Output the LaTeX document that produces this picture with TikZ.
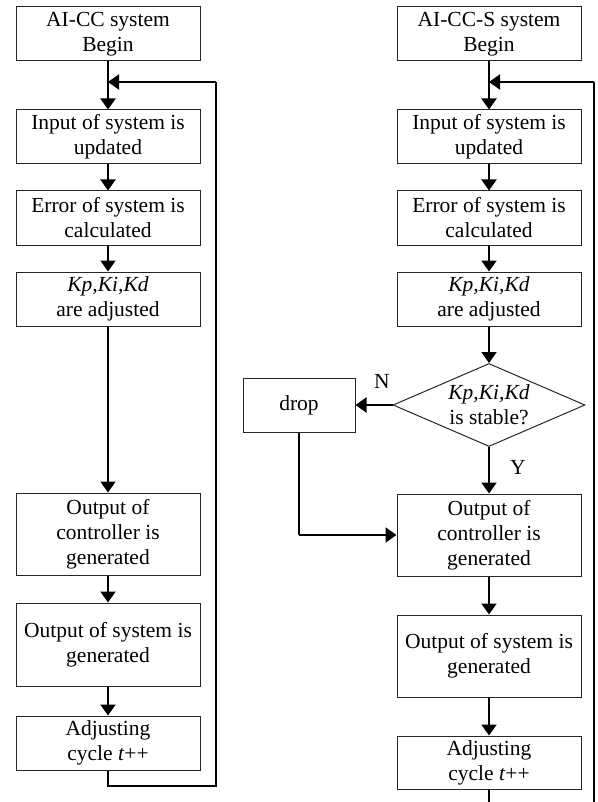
\documentclass[tikz,border=0pt]{standalone}
\usepackage{fontspec}
\setmainfont{Liberation Serif}
\usetikzlibrary{arrows.meta,shapes.geometric}
\begin{document}
\begin{tikzpicture}[x=1pt,y=-1pt,
  box/.style={draw=black!85,line width=1pt,minimum width=184pt,inner sep=0pt,align=center,font=\fontsize{21.5}{25}\selectfont},
  dia/.style={draw=black!85,line width=1pt,diamond,aspect=2.31,minimum width=192pt,minimum height=83pt,inner sep=0pt,align=center,font=\fontsize{21.5}{25}\selectfont},
  arr/.style={line width=2pt,-{Triangle[width=15pt,length=11pt]}},
  ln/.style={line width=2pt},
  lbl/.style={font=\fontsize{21.5}{25}\selectfont}]
\useasboundingbox (0,0) rectangle (597,802);
% left column
\node[box,minimum height=54pt] (b1) at (108,34) {AI-CC system\\Begin};
\node[box,minimum height=54pt] (b2) at (108,137) {Input of system is\\updated};
\node[box,minimum height=54pt] (b3) at (108,218) {Error of system is\\calculated};
\node[box,minimum height=54pt] (b4) at (108,299) {\textit{Kp,Ki,Kd}\\are adjusted};
\node[box,minimum height=82pt] (b5) at (108,534) {Output of\\controller is\\generated};
\node[box,minimum height=83pt] (b6) at (108,644.5) {Output of system is\\generated};
\node[box,minimum height=54pt] (b7) at (108,743) {Adjusting\\cycle \textit{t}++};
\coordinate (lj) at (108,82);
\coordinate (lc1) at (108,786);
\coordinate (lc2) at (216,786);
\coordinate (lc3) at (216,82);
\draw[arr] (b1) -- (b2);
\draw[arr] (b2) -- (b3);
\draw[arr] (b3) -- (b4);
\draw[arr] (b4) -- (b5);
\draw[arr] (b5) -- (b6);
\draw[arr] (b6) -- (b7);
\draw[ln] (b7.south) -- (lc1) -- (lc2) -- (lc3);
\draw[arr] (lc3) -- (lj);
% right column
\node[box,minimum height=54pt] (r1) at (489,34) {AI-CC-S system\\Begin};
\node[box,minimum height=54pt] (r2) at (489,137) {Input of system is\\updated};
\node[box,minimum height=54pt] (r3) at (489,218) {Error of system is\\calculated};
\node[box,minimum height=54pt] (r4) at (489,299) {\textit{Kp,Ki,Kd}\\are adjusted};
\node[dia] (d) at (489,405) {\textit{Kp,Ki,Kd}\\is stable?};
\node[box,minimum width=112pt,minimum height=54pt] (drop) at (299,405) {drop};
\node[box,minimum height=82pt] (r5) at (489,535) {Output of\\controller is\\generated};
\node[box,minimum height=82pt] (r6) at (489,656) {Output of system is\\generated};
\node[box,minimum height=53pt] (r7) at (489,762.5) {Adjusting\\cycle \textit{t}++};
\node[lbl] (n) at (382,381) {N};
\node[lbl] (y) at (518,467) {Y};
\coordinate (rj) at (489,82);
\coordinate (rend) at (489,802);
\coordinate (rl1) at (594,802);
\coordinate (rl2) at (594,82);
\coordinate (dc) at (299,535);
\draw[arr] (r1) -- (r2);
\draw[arr] (r2) -- (r3);
\draw[arr] (r3) -- (r4);
\draw[arr] (r4) -- (d);
\draw[arr] (d.west) -- (drop.east);
\draw[arr] (d.south) -- (r5.north);
\draw[ln] (drop.south) -- (dc);
\draw[arr] (dc) -- (r5.west);
\draw[arr] (r5) -- (r6);
\draw[arr] (r6) -- (r7);
\draw[ln] (r7.south) -- (rend);
\draw[ln] (rl1) -- (rl2);
\draw[arr] (rl2) -- (rj);
\end{tikzpicture}
\end{document}
